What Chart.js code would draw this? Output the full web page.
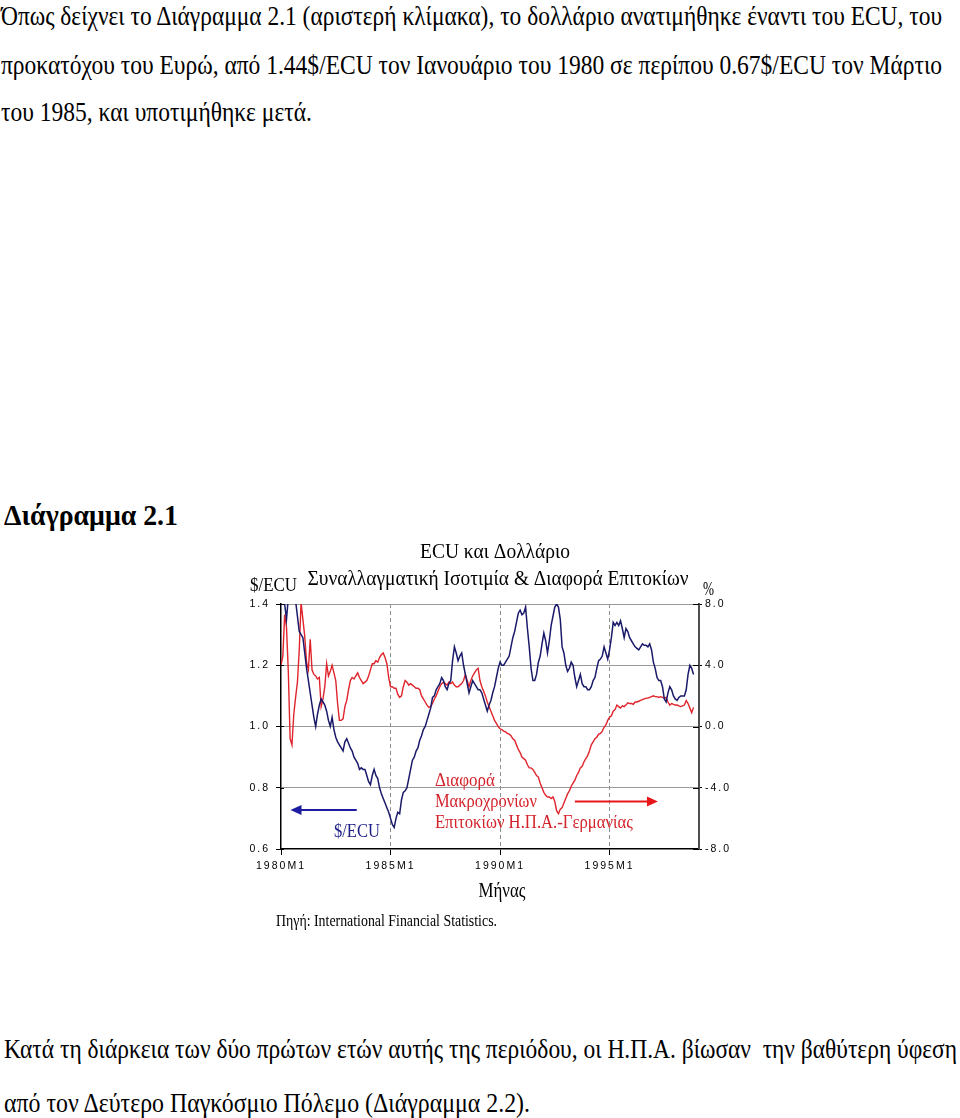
<!DOCTYPE html>
<html><head><meta charset="utf-8">
<script src="https://cdn.jsdelivr.net/npm/chart.js@4/dist/chart.umd.min.js"></script>
<style>
html,body{margin:0;padding:0;background:#fff;}
body{width:960px;height:1118px;overflow:hidden;position:relative;}
.t{position:absolute;white-space:pre;font-family:'Liberation Serif','Times New Roman',serif;color:#000;transform-origin:0 0;line-height:1;}
</style></head><body>
<div class="t" id="p1" style="left:1px;top:3px;font-size:27px">Όπως δείχνει το Διάγραμμα 2.1 (αριστερή κλίμακα), το δολλάριο ανατιμήθηκε έναντι του ECU, του</div>
<div class="t" id="p2" style="left:1px;top:52px;font-size:27px">προκατόχου του Ευρώ, από 1.44$/ECU τον Ιανουάριο του 1980 σε περίπου 0.67$/ECU τον Μάρτιο</div>
<div class="t" id="p3" style="left:1px;top:99px;font-size:27px">του 1985, και υποτιμήθηκε μετά.</div>
<div class="t" id="h1" style="left:4px;top:501px;font-size:29px;font-weight:bold">Διάγραμμα 2.1</div>
<div class="t" id="b1" style="left:4px;top:1036px;font-size:27px">Κατά τη διάρκεια των δύο πρώτων ετών αυτής της περιόδου, οι Η.Π.Α. βίωσαν  την βαθύτερη ύφεση</div>
<div class="t" id="b2" style="left:4px;top:1090px;font-size:27px">από τον Δεύτερο Παγκόσμιο Πόλεμο (Διάγραμμα 2.2).</div>
<div style="position:absolute;left:240px;top:530px;width:490px;height:410px">
<canvas id="c" width="490" height="410" style="width:490px;height:410px"></canvas>
</div>
<script>
// ---- data (monthly, month index 0 = 1980M1) ----
const usdPerEcu = [
1.44,1.43,1.40,1.35,1.42,1.45,1.46,1.45,1.41,1.36,
1.31,1.30,1.29,1.24,1.19,1.15,1.11,1.07,1.03,1.00,
1.04,1.07,1.09,1.08,1.07,1.05,1.02,1.00,1.03,0.99,
0.965,0.95,0.94,0.93,0.92,0.95,0.96,0.945,0.93,0.92,
0.90,0.89,0.88,0.86,0.865,0.86,0.86,0.84,0.82,0.81,
0.84,0.86,0.84,0.83,0.80,0.78,0.765,0.75,0.735,0.72,
0.70,0.68,0.67,0.70,0.72,0.715,0.76,0.785,0.79,0.80,
0.83,0.86,0.89,0.90,0.92,0.93,0.955,0.97,0.99,1.00,
1.02,1.04,1.06,1.095,1.10,1.12,1.13,1.14,1.16,1.15,
1.13,1.12,1.14,1.15,1.215,1.26,1.24,1.215,1.23,1.24,
1.20,1.17,1.14,1.11,1.13,1.15,1.14,1.13,1.12,1.12,
1.11,1.09,1.07,1.05,1.07,1.085,1.11,1.13,1.16,1.19,
1.21,1.20,1.20,1.21,1.22,1.23,1.26,1.29,1.31,1.34,
1.37,1.38,1.365,1.37,1.39,1.32,1.26,1.19,1.15,1.15,
1.17,1.21,1.23,1.27,1.305,1.28,1.24,1.28,1.33,1.36,
1.39,1.40,1.39,1.35,1.26,1.24,1.20,1.18,1.19,1.21,
1.20,1.16,1.13,1.15,1.17,1.14,1.13,1.13,1.12,1.12,
1.13,1.15,1.16,1.19,1.215,1.22,1.23,1.26,1.24,1.22,
1.25,1.29,1.34,1.33,1.34,1.33,1.345,1.32,1.29,1.32,
1.31,1.29,1.28,1.27,1.26,1.255,1.25,1.26,1.27,1.265,
1.265,1.26,1.27,1.25,1.21,1.19,1.16,1.15,1.15,1.13,
1.09,1.08,1.11,1.13,1.12,1.10,1.09,1.085,1.095,1.10,
1.10,1.10,1.12,1.17,1.20,1.19,1.17
];
const spreadUsDe = [
4.0,4.6,7.3,6.5,3.6,-0.8,-1.2,0.8,1.9,2.9,
5.0,8.1,7.0,5.9,4.2,3.7,5.7,3.7,3.4,3.3,
3.1,3.2,1.3,1.8,2.6,4.1,3.3,3.6,4.0,3.5,
3.0,1.5,0.4,0.4,0.5,1.3,1.7,2.4,3.0,3.2,
3.1,3.3,3.5,3.2,3.0,2.8,2.9,3.0,3.3,3.7,
4.1,4.1,4.3,4.2,4.5,4.7,4.8,4.5,4.1,3.2,
2.6,2.6,2.5,2.5,2.1,1.9,2.0,2.6,3.0,2.9,
2.7,2.8,2.7,2.6,2.5,2.5,2.4,2.0,1.8,1.6,
1.4,1.25,1.3,1.5,1.8,2.0,2.3,2.6,2.8,2.9,
2.8,2.7,2.9,2.8,2.9,2.7,2.6,2.6,2.7,2.8,
3.0,3.4,3.0,2.6,3.0,3.3,3.5,3.7,3.8,3.0,
2.6,2.3,2.0,1.6,1.3,1.0,0.7,0.4,0.2,0.0,
-0.15,-0.2,-0.3,-0.35,-0.45,-0.5,-0.6,-0.8,-0.9,-1.2,
-1.5,-1.7,-2.0,-2.1,-2.2,-2.5,-2.7,-2.7,-2.8,-3.0,
-3.2,-3.3,-3.7,-4.0,-4.3,-4.5,-4.6,-4.6,-4.7,-4.6,
-4.9,-5.5,-5.7,-5.4,-5.3,-5.0,-4.7,-4.4,-4.2,-3.9,
-3.7,-3.5,-3.2,-3.0,-2.7,-2.6,-2.3,-2.1,-1.9,-1.6,
-1.2,-1.0,-0.8,-0.7,-0.5,-0.45,-0.3,-0.05,0.1,0.4,
0.6,0.7,1.0,1.1,1.4,1.3,1.2,1.35,1.3,1.4,
1.55,1.5,1.5,1.45,1.6,1.6,1.65,1.7,1.75,1.8,
1.85,1.85,1.9,1.95,2.0,1.95,1.95,1.9,1.95,1.9,
1.85,1.9,1.6,1.4,1.5,1.45,1.4,1.4,1.35,1.3,
1.35,1.4,1.7,1.5,1.2,0.9,1.25
];
const months = usdPerEcu.map((_, i) => i);
const xTickMonths = [0, 60, 120, 180];
const xTickLabels = ['1980M1', '1985M1', '1990M1', '1995M1'];
const leftTicks = [0.6, 0.8, 1.0, 1.2, 1.4];
const rightTicks = [-8, -4, 0, 4, 8];

const BLUE = '#1a1a6a', RED = '#e0242b', BLUE_T = '#1d1d86', RED_T = '#d3232b';

function fitEl(id, w){
  const el = document.getElementById(id);
  el.style.transform = 'none';
  const r = el.getBoundingClientRect().width;
  el.style.transform = 'scaleX(' + (w / r).toFixed(4) + ')';
}
fitEl('p1', 941); fitEl('p2', 941); fitEl('p3', 311);
fitEl('h1', 174); fitEl('b1', 953); fitEl('b2', 526);

function fitText(ctx, str, x, y, size, width, color, align){
  ctx.save();
  ctx.font = size + 'px "Liberation Serif", "Times New Roman", serif';
  ctx.fillStyle = color;
  ctx.textBaseline = 'alphabetic';
  ctx.textAlign = 'left';
  const w = ctx.measureText(str).width;
  const s = width / w;
  ctx.translate(x, y);
  ctx.scale(s, 1);
  ctx.fillText(str, align === 'center' ? -w / 2 : 0, 0);
  ctx.restore();
}
function arrow(ctx, x1, x2, y, color){
  const dir = Math.sign(x2 - x1);
  ctx.save();
  ctx.strokeStyle = color; ctx.fillStyle = color; ctx.lineWidth = 2;
  ctx.beginPath(); ctx.moveTo(x1, y); ctx.lineTo(x2 - dir * 9, y); ctx.stroke();
  ctx.beginPath(); ctx.moveTo(x2, y); ctx.lineTo(x2 - dir * 11, y - 5); ctx.lineTo(x2 - dir * 11, y + 5); ctx.closePath(); ctx.fill();
  ctx.restore();
}

const decor = {
  id: 'decor',
  beforeDraw(chart){ chart.ctx.letterSpacing = '2px'; },
  beforeDatasetsDraw(chart){ chart.ctx.letterSpacing = '0px'; },
  afterDraw(chart){
    const {ctx, chartArea: ca, scales: {x, y, y2}} = chart;
    ctx.save();
    ctx.letterSpacing = '0px';
    ctx.strokeStyle = '#000'; ctx.lineWidth = 1;
    rightTicks.forEach(v => {
      const py = Math.round(y2.getPixelForValue(v)) + 0.5;
      ctx.beginPath(); ctx.moveTo(ca.right - 6, py); ctx.lineTo(ca.right, py); ctx.stroke();
    });
    leftTicks.forEach(v => {
      const py = Math.round(y.getPixelForValue(v)) + 0.5;
      ctx.beginPath(); ctx.moveTo(ca.left, py); ctx.lineTo(ca.left + 3, py); ctx.stroke();
    });
    fitText(ctx, 'ECU και Δολλάριο', 255, 28, 20, 150, '#000', 'center');
    fitText(ctx, 'Συναλλαγματική Ισοτιμία & Διαφορά Επιτοκίων', 258, 55, 20, 381, '#000', 'center');
    fitText(ctx, '$/ECU', 10, 61, 19, 47, '#000', 'left');
    fitText(ctx, '%', 463, 65, 19, 11, '#000', 'left');
    fitText(ctx, 'Μήνας', 262, 367, 20, 47, '#000', 'center');
    fitText(ctx, 'Πηγή: International Financial Statistics.', 36, 396, 17, 221, '#000', 'left');
    arrow(ctx, x.getPixelForValue(41.5), x.getPixelForValue(5.2), y.getPixelForValue(0.727), '#1c1ca0');
    fitText(ctx, '$/ECU', x.getPixelForValue(29), y.getPixelForValue(0.639), 19, 46, BLUE_T, 'left');
    const rx = x.getPixelForValue(84.3);
    fitText(ctx, 'Διαφορά', rx, y.getPixelForValue(0.807), 19, 60, RED_T, 'left');
    fitText(ctx, 'Μακροχρονίων', rx, y.getPixelForValue(0.736), 19, 102, RED_T, 'left');
    fitText(ctx, 'Επιτοκίων Η.Π.Α.-Γερμανίας', rx, y.getPixelForValue(0.669), 19, 198, RED_T, 'left');
    arrow(ctx, x.getPixelForValue(161), x.getPixelForValue(206.5), y2.getPixelForValue(-4.9), '#e8161b');
    ctx.restore();
  }
};

const tickFont = {family: '"Liberation Sans", Arial, sans-serif', size: 10.5};

new Chart(document.getElementById('c'), {
  type: 'line',
  data: {
    datasets: [
      { label: '$/ECU', data: months.map(m => ({x: m, y: usdPerEcu[m]})), yAxisID: 'y',
        borderColor: BLUE, borderWidth: 1.5, pointRadius: 0, tension: 0, fill: false },
      { label: 'Διαφορά Μακροχρονίων Επιτοκίων Η.Π.Α.-Γερμανίας', data: months.map(m => ({x: m, y: spreadUsDe[m]})), yAxisID: 'y2',
        borderColor: RED, borderWidth: 1.4, pointRadius: 0, tension: 0, fill: false }
    ]
  },
  options: {
    responsive: false, animation: false, devicePixelRatio: 1,
    layout: {padding: {top: 74, bottom: 66, left: 0, right: 0}},
    plugins: {legend: {display: false}, tooltip: {enabled: false}, title: {display: false}},
    scales: {
      x: {
        type: 'linear', min: 0, max: 229, position: 'bottom',
        afterBuildTicks: s => { s.ticks = xTickMonths.map(v => ({value: v})); },
        afterFit: s => { s.height = 25; },
        ticks: { callback: v => xTickLabels[xTickMonths.indexOf(v)], font: tickFont, color: '#000', padding: 5, maxRotation: 0, autoSkip: false },
        grid: { color: c => (c.tick && c.tick.value === 0) ? 'rgba(0,0,0,0)' : '#8e8e8e', lineWidth: 1, tickColor: '#000', tickLength: 6 },
        border: { display: true, color: '#000', width: 1.5, dash: [4, 3] }
      },
      y: {
        position: 'left', min: 0.6, max: 1.4,
        afterBuildTicks: s => { s.ticks = leftTicks.map(v => ({value: v})); },
        afterFit: s => { s.width = 41; },
        ticks: { callback: v => v.toFixed(1), font: tickFont, color: '#000', padding: 6 },
        grid: { color: c => (c.tick && Math.abs(c.tick.value - 0.6) < 1e-6) ? 'rgba(0,0,0,0)' : '#9a9a9a', lineWidth: 1, tickColor: '#000', tickLength: 5 },
        border: { display: true, color: '#000', width: 1.5 }
      },
      y2: {
        position: 'right', min: -8, max: 8,
        afterBuildTicks: s => { s.ticks = rightTicks.map(v => ({value: v})); },
        afterFit: s => { s.width = 31; },
        ticks: { callback: v => v.toFixed(1), font: tickFont, color: '#000', padding: 3 },
        grid: { drawOnChartArea: false, tickColor: '#000', tickLength: 3 },
        border: { display: true, color: '#505050', width: 2 }
      }
    }
  },
  plugins: [decor]
});
</script>
</body></html>
